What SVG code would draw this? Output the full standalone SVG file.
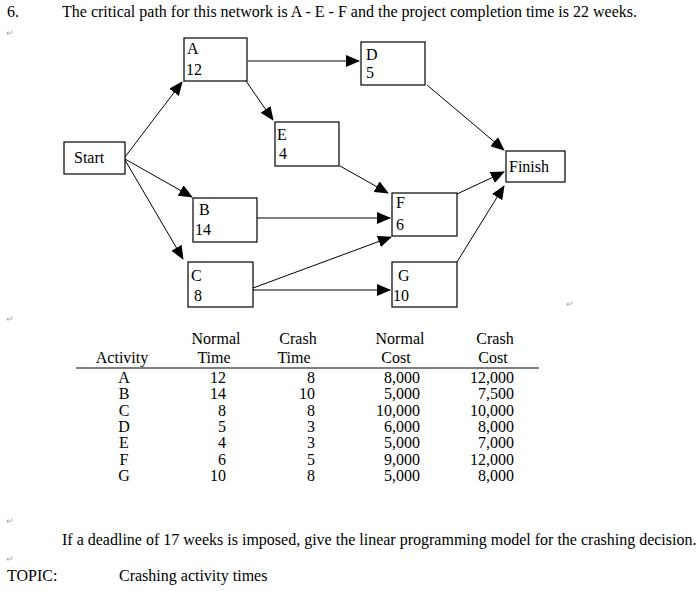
<svg xmlns="http://www.w3.org/2000/svg" width="700" height="591" viewBox="0 0 700 591">
<style>
text{font-family:"Liberation Serif","Times New Roman",serif;font-size:16px;fill:#000}
.b{fill:#fff;stroke:#000;stroke-width:1.2}
.c line{stroke:#000;stroke-width:1}
.m{fill:#aaa;font-size:9px}
.r{text-anchor:end}.mid{text-anchor:middle}
</style>
<defs><marker id="ar" markerWidth="14" markerHeight="12" refX="13" refY="6" orient="auto" markerUnits="userSpaceOnUse"><path d="M0,0L14,6L0,12z" fill="#000"/></marker></defs>
<rect width="700" height="591" fill="#fff"/>
<text x="7" y="17">6.</text>
<text x="62" y="17">The critical path for this network is A - E - F and the project completion time is 22 weeks.</text>
<text class="m" x="6" y="36">↵</text>
<g class="c">
<line x1="125" y1="157" x2="182" y2="82" marker-end="url(#ar)"/>
<line x1="248" y1="61" x2="359" y2="61" marker-end="url(#ar)"/>
<line x1="246" y1="81" x2="273" y2="120" marker-end="url(#ar)"/>
<line x1="427" y1="85" x2="504" y2="150" marker-end="url(#ar)"/>
<line x1="340" y1="166" x2="388" y2="193" marker-end="url(#ar)"/>
<line x1="125" y1="159" x2="192" y2="197" marker-end="url(#ar)"/>
<line x1="125" y1="160" x2="183" y2="259" marker-end="url(#ar)"/>
<line x1="257" y1="218" x2="390" y2="218" marker-end="url(#ar)"/>
<line x1="253" y1="288" x2="391" y2="237" marker-end="url(#ar)"/>
<line x1="253" y1="290" x2="390" y2="290" marker-end="url(#ar)"/>
<line x1="457" y1="194" x2="504" y2="172" marker-end="url(#ar)"/>
<line x1="457" y1="262" x2="504" y2="186" marker-end="url(#ar)"/>
</g>
<g id="A"><rect class="b" x="184" y="38" width="63" height="43"/><text x="187" y="54">A</text><text x="186" y="75">12</text></g>
<g id="D"><rect class="b" x="361" y="42" width="64" height="43"/><text x="366" y="60">D</text><text x="366" y="78">5</text></g>
<g id="E"><rect class="b" x="275" y="122" width="64" height="44"/><text x="277" y="140">E</text><text x="279" y="159">4</text></g>
<g id="Start"><rect class="b" x="64" y="142" width="61" height="32"/><text x="74" y="163">Start</text></g>
<g id="Finish"><rect class="b" x="506" y="151" width="59" height="31"/><text x="509" y="172">Finish</text></g>
<g id="B"><rect class="b" x="193" y="198" width="64" height="44"/><text x="199" y="215">B</text><text x="195" y="235">14</text></g>
<g id="F"><rect class="b" x="392" y="193" width="65" height="43"/><text x="396" y="208">F</text><text x="396" y="230">6</text></g>
<g id="C"><rect class="b" x="188" y="262" width="65" height="45"/><text x="191" y="281">C</text><text x="194" y="301">8</text></g>
<g id="G"><rect class="b" x="392" y="262" width="65" height="45"/><text x="398" y="281">G</text><text x="393" y="301">10</text></g>
<text class="m" x="566" y="307">↵</text>
<text class="m" x="6" y="322">↵</text>
<g id="table">
<text class="mid" x="216" y="344">Normal</text><text class="mid" x="298" y="344">Crash</text><text class="mid" x="400" y="344">Normal</text><text class="mid" x="495" y="344">Crash</text>
<text class="mid" x="122" y="363">Activity</text><text class="mid" x="214" y="363">Time</text><text class="mid" x="294" y="363">Time</text><text class="mid" x="396" y="363">Cost</text><text class="mid" x="493" y="363">Cost</text>
<line x1="76" y1="368" x2="539" y2="368" stroke="#000" stroke-width="1"/>
<g class="mid">
<text x="124" y="383">A</text><text x="124" y="399">B</text><text x="124" y="416">C</text><text x="124" y="432">D</text><text x="124" y="448">E</text><text x="124" y="465">F</text><text x="124" y="481">G</text></g>
<g class="r">
<text x="226" y="383">12</text><text x="226" y="399">14</text><text x="226" y="416">8</text><text x="226" y="432">5</text><text x="226" y="448">4</text><text x="226" y="465">6</text><text x="226" y="481">10</text>
<text x="315" y="383">8</text><text x="315" y="399">10</text><text x="315" y="416">8</text><text x="315" y="432">3</text><text x="315" y="448">3</text><text x="315" y="465">5</text><text x="315" y="481">8</text>
<text x="420" y="383">8,000</text><text x="420" y="399">5,000</text><text x="420" y="416">10,000</text><text x="420" y="432">6,000</text><text x="420" y="448">5,000</text><text x="420" y="465">9,000</text><text x="420" y="481">5,000</text>
<text x="514" y="383">12,000</text><text x="514" y="399">7,500</text><text x="514" y="416">10,000</text><text x="514" y="432">8,000</text><text x="514" y="448">7,000</text><text x="514" y="465">12,000</text><text x="514" y="481">8,000</text>
</g></g>
<text class="m" x="6" y="524">↵</text>
<text x="62" y="545">If a deadline of 17 weeks is imposed, give the linear programming model for the crashing decision.</text>
<text class="m" x="6" y="562">↵</text>
<text x="7" y="581">TOPIC:</text>
<text x="119" y="581">Crashing activity times</text>
</svg>
